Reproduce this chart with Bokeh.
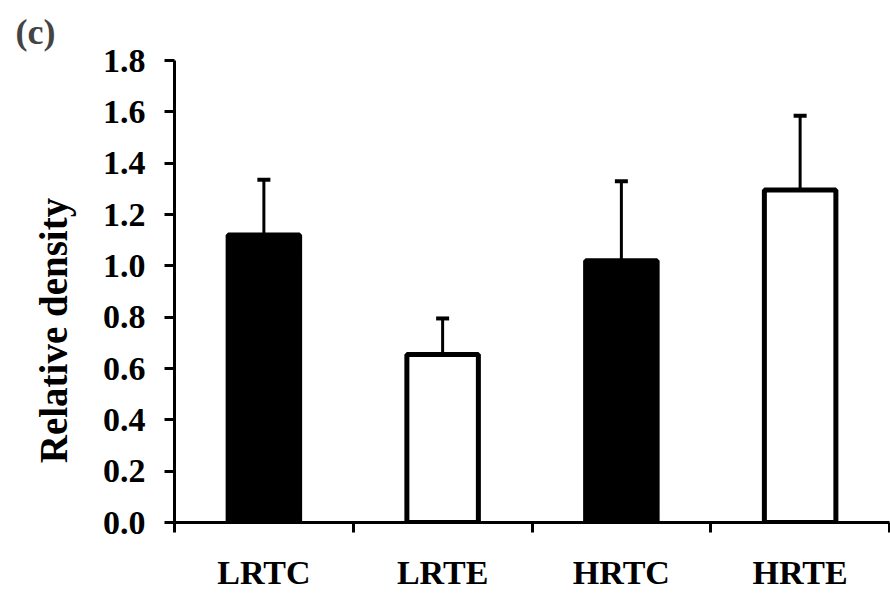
from bokeh.plotting import figure
from bokeh.models import (Range1d, FixedTicker, NumeralTickFormatter, Whisker,
                          TeeHead, ColumnDataSource)
from bokeh.embed import file_html
from bokeh.resources import INLINE

# ---- data ----
categories = ["LRTC", "LRTE", "HRTC", "HRTE"]
means = [1.12, 0.655, 1.02, 1.295]
upper = [1.335, 0.795, 1.33, 1.585]
fills = ["black", "white", "black", "white"]
y_ticks = [0.0, 0.2, 0.4, 0.6, 0.8, 1.0, 1.2, 1.4, 1.6, 1.8]

xpos = [i + 0.5 for i in range(len(categories))]
src = ColumnDataSource(dict(x=xpos, top=means, upper=upper, fill=fills))

FONT = "Liberation Serif"

p = figure(width=890, height=594, output_backend="svg", toolbar_location=None,
           x_range=Range1d(0, len(categories)), y_range=Range1d(0, 1.8),
           min_border_left=174, min_border_right=1, min_border_top=60,
           min_border_bottom=72, title="(c)")
p.outline_line_color = None
p.xgrid.visible = False
p.ygrid.visible = False

p.title.text_font = FONT
p.title.text_font_size = "36px"
p.title.text_font_style = "bold"
p.title.align = "left"
p.title.offset = -159
p.title.standoff = 17

p.vbar(x="x", top="top", width=0.40, bottom=0, source=src,
       fill_color="fill", line_color="black", line_width=5)

w = Whisker(base="x", lower="top", upper="upper", source=src,
            line_color="black", line_width=3, lower_head=None,
            upper_head=TeeHead(size=13, line_width=4, line_color="black"))
w.level = "overlay"
p.add_layout(w)

# x axis: labels at centres, ticks at category boundaries (minor ticks)
xa = p.xaxis[0]
xa.ticker = FixedTicker(ticks=xpos,
                        minor_ticks=list(range(len(categories) + 1)))
xa.major_label_overrides = {x: c for x, c in zip(xpos, categories)}
xa.major_tick_out = 0
xa.major_tick_in = 0
xa.minor_tick_out = 10
xa.minor_tick_in = 0
xa.minor_tick_line_width = 3
xa.minor_tick_line_color = "black"
xa.axis_line_width = 3
xa.axis_line_color = "black"
xa.major_label_text_font = FONT
xa.major_label_text_font_size = "34px"
xa.major_label_text_font_style = "bold"
xa.major_label_text_color = "black"
xa.major_label_standoff = 21

ya = p.yaxis[0]
ya.ticker = FixedTicker(ticks=y_ticks, minor_ticks=[])
ya.formatter = NumeralTickFormatter(format="0.0")
ya.major_tick_out = 10
ya.major_tick_in = 0
ya.major_tick_line_width = 3
ya.axis_line_width = 3
ya.axis_line_color = "black"
ya.major_tick_line_color = "black"
ya.major_label_text_font = FONT
ya.major_label_text_font_size = "34px"
ya.major_label_text_font_style = "bold"
ya.major_label_text_color = "black"
ya.major_label_standoff = 19
# trailing no-break spaces push the centred title down, as in the original
ya.axis_label = "Relative density" + "\u00a0" * 8
ya.axis_label_text_font = FONT
ya.axis_label_text_font_size = "39px"
ya.axis_label_text_font_style = "bold"
ya.axis_label_text_color = "black"
ya.axis_label_standoff = 25

open("out.html", "w").write(file_html(p, INLINE))
